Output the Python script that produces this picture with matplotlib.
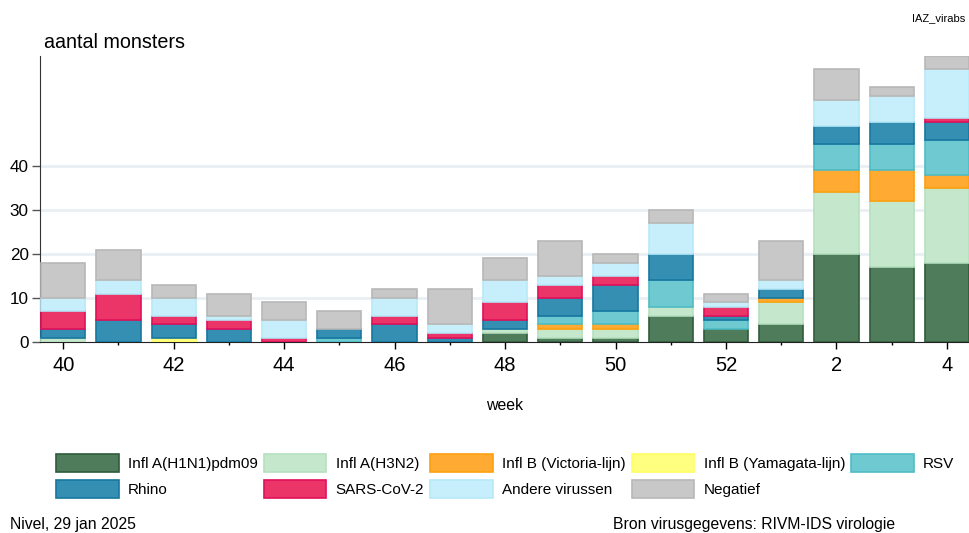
import numpy as np
import matplotlib
matplotlib.use("Agg")
import matplotlib.pyplot as plt
from matplotlib.patches import Patch

plt.rcParams['font.family'] = ['Liberation Sans', 'DejaVu Sans']

# weeks 40..52 of 2024 and 1..4 of 2025
weeks = [40, 41, 42, 43, 44, 45, 46, 47, 48, 49, 50, 51, 52, 1, 2, 3, 4]

h1n1 = [0, 0, 0, 0, 0, 0, 0, 0, 2, 1, 1, 6, 3, 4, 20, 17, 18]
h3n2 = [1, 0, 0, 0, 0, 0, 0, 0, 1, 2, 2, 2, 0, 5, 14, 15, 17]
vic = [0, 0, 0, 0, 0, 0, 0, 0, 0, 1, 1, 0, 0, 1, 5, 7, 3]
yam = [0, 0, 1, 0, 0, 0, 0, 0, 0, 0, 0, 0, 0, 0, 0, 0, 0]
rsv = [0, 0, 0, 0, 0, 1, 0, 0, 0, 2, 3, 6, 2, 0, 6, 6, 8]
rhino = [2, 5, 3, 3, 0, 2, 4, 1, 2, 4, 6, 6, 1, 2, 4, 5, 4]
sars = [4, 6, 2, 2, 1, 0, 2, 1, 4, 3, 2, 0, 2, 0, 0, 0, 1]
andere = [3, 3, 4, 1, 4, 0, 4, 2, 5, 2, 3, 7, 1, 2, 6, 6, 11]
negatief = [8, 7, 3, 5, 4, 4, 2, 8, 5, 8, 2, 3, 2, 9, 7, 2, 3]

labels = ['Infl A(H1N1)pdm09', 'Infl A(H3N2)', 'Infl B (Victoria-lijn)',
          'Infl B (Yamagata-lijn)', 'RSV', 'Rhino', 'SARS-CoV-2',
          'Andere virussen', 'Negatief']
series = [h1n1, h3n2, vic, yam, rsv, rhino, sars, andere, negatief]
fills = ['#4f7d5c', '#c5e8cd', '#ffab33', '#ffff80', '#6fc9d1',
         '#348fb3', '#eb3468', '#c6eefb', '#c8c8c8']
edges = ['#2f5c3a', '#b5e0bf', '#ff9f10', '#ffff60', '#4fbcc6',
         '#1677a0', '#e0115a', '#b8e8f8', '#b8b8b8']

fig = plt.figure(figsize=(9.69, 5.33), dpi=100)
ax = fig.add_axes([40/969, 1-342/533, 929/969, (342-56)/533])

x = np.arange(len(weeks))
bottom = np.zeros(len(weeks))
for vals, lab, fc, ec in zip(series, labels, fills, edges):
    vals = np.array(vals, dtype=float)
    lw = [1.2 if v > 0 else 0 for v in vals]
    ax.bar(x, vals, width=0.8, bottom=bottom, color=fc, edgecolor=ec,
           linewidth=lw, zorder=3)
    bottom += vals

ax.set_xlim(-0.42, 16.4)
ax.set_ylim(0, 65)
ax.set_yticks([0, 10, 20, 30, 40])
ax.tick_params(axis='y', labelsize=12.3, length=6, width=1, color='#555555', pad=2)
for yv in [10, 20, 30, 40]:
    ax.axhline(yv, color='#e9eff3', linewidth=2, zorder=1)

ax.set_xticks(x[::2])
ax.set_xticklabels([str(w) for w in weeks[::2]])
ax.set_xticks(x, minor=True)
ax.tick_params(axis='x', which='major', labelsize=14.5, length=5, width=1, pad=5)
ax.tick_params(axis='x', which='minor', length=2.5, width=1)

for s in ['top', 'right']:
    ax.spines[s].set_visible(False)
ax.spines['left'].set_color('#333333')
ax.spines['bottom'].set_color('#222222')

fig.text(505/969, 1-405/533, 'week', fontsize=11.4, va='center', ha='center')
fig.text(44/969, 1-42/533, 'aantal monsters', fontsize=14.2, va='center', ha='left')
fig.text(965/969, 1-18/533, 'IAZ_virabs', fontsize=8, va='center', ha='right')

handles = [Patch(facecolor=fc, edgecolor=ec, linewidth=1.2)
           for fc, ec in zip(fills, edges)]
# reorder so legend reads row by row
order = [0, 5, 1, 6, 2, 7, 3, 8, 4]
fig.legend([handles[i] for i in order], [labels[i] for i in order],
           ncol=5, loc='center left', bbox_to_anchor=(56/969, 1-476/533),
           frameon=False, fontsize=11.0, handlelength=4.1, handleheight=1.45,
           handletextpad=0.6, columnspacing=0.4, labelspacing=0.55,
           borderaxespad=0, borderpad=0)

fig.text(10/969, 1-524/533, 'Nivel, 29 jan 2025', fontsize=11.3, va='center')
fig.text(613/969, 1-524/533, 'Bron virusgegevens: RIVM-IDS virologie',
         fontsize=11.3, va='center')

fig.savefig('out.png', dpi=100)
